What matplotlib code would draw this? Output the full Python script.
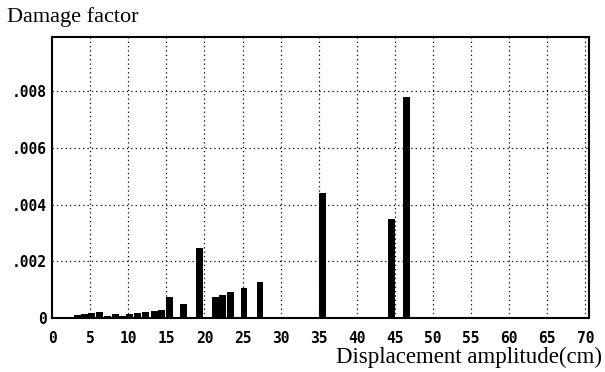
import numpy as np
import matplotlib.pyplot as plt

# Displacement amplitude (cm) and damage factor
amplitude = [1.3, 2.3, 3.3, 4.3, 5.2, 6.2, 7.3, 8.3, 9.3, 10.2, 11.2, 12.3, 13.4, 14.4,
             15.4, 17.3, 19.4, 21.4, 22.4, 23.4, 25.2, 27.3, 35.5, 44.5, 46.5]
damage = [0.00002, 0.00005, 0.00012, 0.00015, 0.00018, 0.0002, 0.00008, 0.00016, 0.00009,
          0.00014, 0.00018, 0.0002, 0.00025, 0.0003, 0.00074, 0.00049, 0.00246, 0.00074,
          0.0008, 0.00091, 0.00105, 0.00127, 0.0044, 0.0035, 0.0078]

xticks = list(range(0, 75, 5))
yticks = [0, 0.002, 0.004, 0.006, 0.008]
ytick_labels = ["0", ".002", ".004", ".006", ".008"]

fig = plt.figure(figsize=(6.05, 3.72), dpi=100)
ax = fig.add_axes([0.086, 0.145, 0.888, 0.755])

ax.bar(amplitude, damage, width=0.9, color="black", zorder=3)

ax.set_xlim(0, 70.5)
ax.set_ylim(0, 0.0099)
ax.set_xticks(xticks)
ax.set_xticklabels([str(t) for t in xticks], family="DejaVu Sans Mono",
                   fontsize=10.5, fontweight="bold")
ax.set_yticks(yticks)
ax.set_yticklabels(ytick_labels, family="DejaVu Sans Mono", fontsize=10.5,
                   fontweight="bold")
ax.tick_params(axis="x", length=0, pad=9)
ax.tick_params(axis="y", length=0, pad=4)

# dotted grid, skipping the lines on the axes
for x in xticks[1:]:
    ax.axvline(x, color="black", linestyle=(0, (1, 2.5)), linewidth=0.9, zorder=1)
for y in yticks[1:]:
    ax.axhline(y, color="black", linestyle=(0, (1, 2.5)), linewidth=0.9, zorder=1)

for s in ax.spines.values():
    s.set_linewidth(1.5)

fig.text(0.012, 0.94, "Damage factor", family="Liberation Serif", fontsize=16)
fig.text(0.995, 0.025, "Displacement amplitude(cm)", family="Liberation Serif",
         fontsize=16.5, ha="right")

plt.savefig("out.png", dpi=100)
